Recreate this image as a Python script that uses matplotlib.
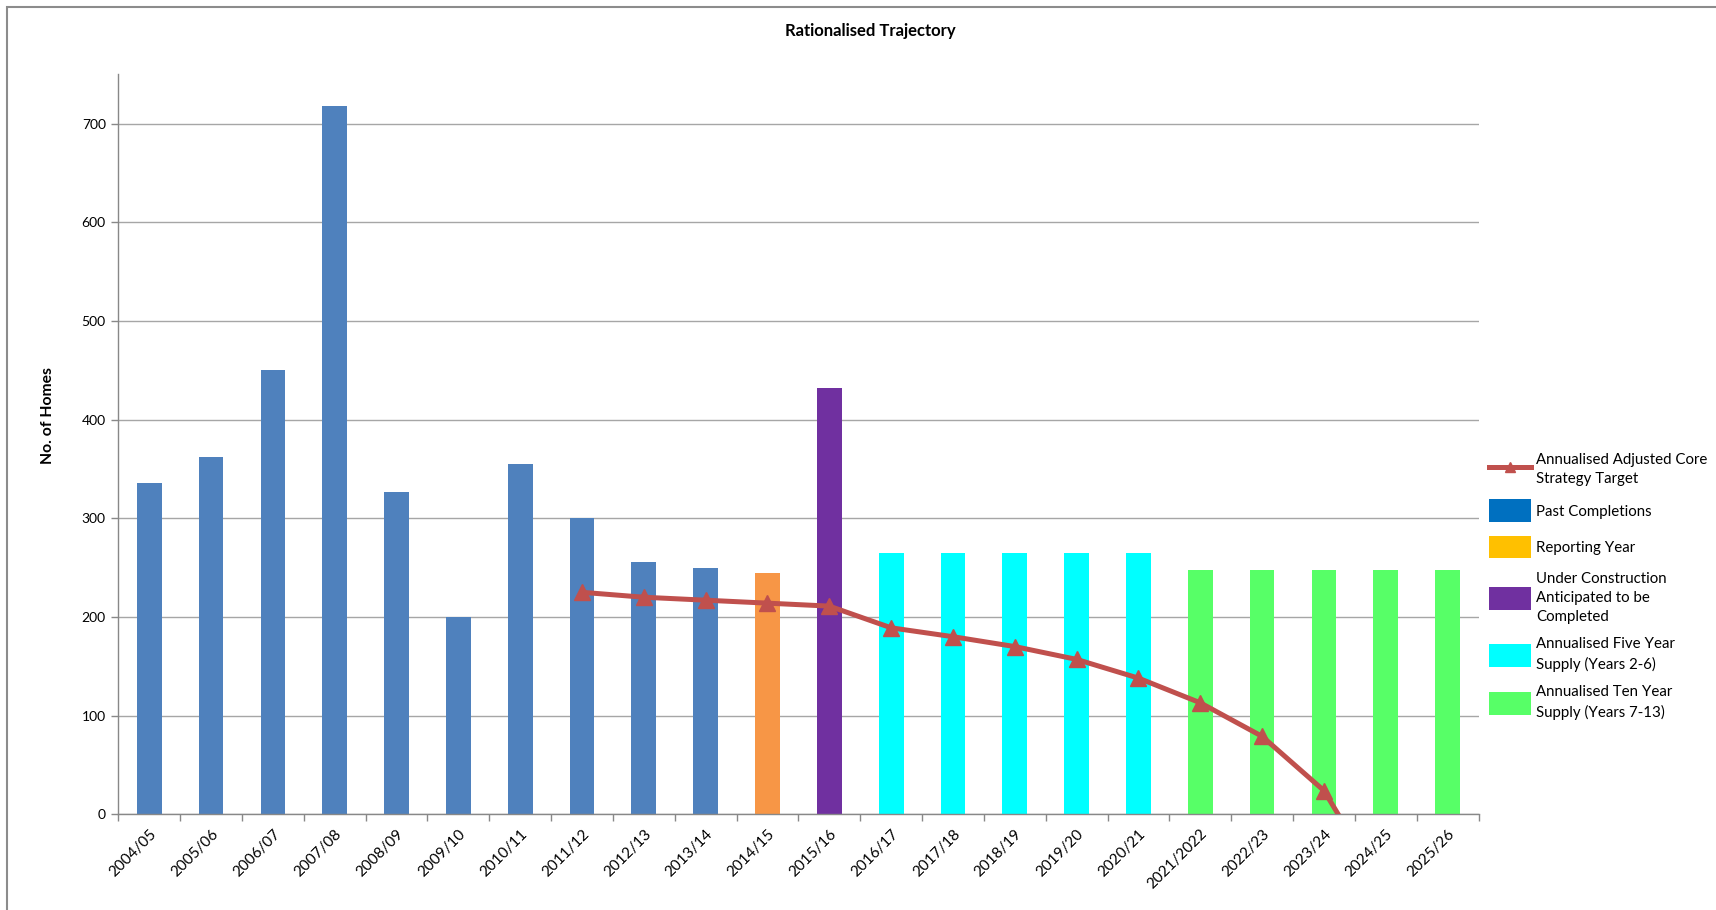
import matplotlib
matplotlib.use("Agg")
import matplotlib.pyplot as plt
from matplotlib.patches import Patch, Rectangle
from matplotlib.lines import Line2D
import numpy as np

plt.rcParams['font.family'] = ['Lato', 'DejaVu Sans']

years = ["2004/05", "2005/06", "2006/07", "2007/08", "2008/09", "2009/10", "2010/11",
         "2011/12", "2012/13", "2013/14", "2014/15", "2015/16", "2016/17", "2017/18",
         "2018/19", "2019/20", "2020/21", "2021/2022", "2022/23", "2023/24", "2024/25", "2025/26"]

past_completions = [336, 362, 450, 718, 327, 200, 355, 300, 256, 250]
reporting_year = [245]
under_construction = [432]
five_year_supply = [265, 265, 265, 265, 265]
ten_year_supply = [248, 248, 248, 248, 248]

# Annualised adjusted core strategy target (from 2011/12 onwards)
target_years = years[7:]
target_values = [225, 220, 217, 214, 211, 189, 180, 170, 157, 138, 113, 79, 24, -80, -190]

series = [
    (past_completions, "#4F81BD"),
    (reporting_year, "#F79646"),
    (under_construction, "#7030A0"),
    (five_year_supply, "#00FFFF"),
    (ten_year_supply, "#57FF67"),
]

W, H = 1716, 910
fig = plt.figure(figsize=(W / 100, H / 100), dpi=100)
ax = fig.add_axes([118.3 / W, 1 - 814.3 / H, (1478.5 - 118.3) / W, (814.3 - 74.3) / H])

x_all = np.arange(len(years))
start = 0
for vals, col in series:
    xs = x_all[start:start + len(vals)]
    ax.bar(xs, vals, width=0.4, color=col, zorder=2)
    start += len(vals)

tx = [years.index(y) for y in target_years]
ax.plot(tx, target_values, color="#C0504D", lw=3.6, marker="^", markersize=11,
        markerfacecolor="#C0504D", markeredgecolor="#C0504D", zorder=3, clip_on=True)

ax.set_xlim(-0.5, len(years) - 0.5)
ax.set_ylim(0, 750)
ax.set_yticks(np.arange(0, 701, 100))
ax.yaxis.grid(True, color="#A6A6A6", lw=1, zorder=0)
ax.set_axisbelow(True)

ax.set_xticks(x_all)
ax.set_xticklabels(years, rotation=45, ha="right", rotation_mode="anchor", fontsize=11,
                   color="#000000")
ax.set_xticks(np.arange(-0.5, len(years), 1), minor=True)
ax.tick_params(axis="x", which="major", length=0, pad=9)
ax.tick_params(axis="x", which="minor", length=5, color="#888888", width=1)
ax.tick_params(axis="y", length=5, color="#888888", width=1, labelsize=10, pad=4)

for s in ("top", "right"):
    ax.spines[s].set_visible(False)
for s in ("left", "bottom"):
    ax.spines[s].set_color("#888888")
    ax.spines[s].set_linewidth(1)

fig.text(870 / W, 1 - 31 / H, "Rationalised Trajectory", ha="center", va="center",
         fontsize=12, fontweight="bold")
fig.text(48 / W, 1 - 416 / H, "No. of Homes", ha="center", va="center", rotation=90,
         fontsize=11.3, fontweight="bold")

handles = [
    Line2D([0], [0], color="#C0504D", lw=3.6, marker="^", markersize=7),
    Patch(facecolor="#0070C0"),
    Patch(facecolor="#FFC000"),
    Patch(facecolor="#7030A0"),
    Patch(facecolor="#00FFFF"),
    Patch(facecolor="#57FF67"),
]
labels = [
    "Annualised Adjusted Core\nStrategy Target",
    "Past Completions",
    "Reporting Year",
    "Under Construction\nAnticipated to be\nCompleted",
    "Annualised Five Year\nSupply (Years 2-6)",
    "Annualised Ten Year\nSupply (Years 7-13)",
]
leg = fig.legend(handles, labels, loc="upper left", bbox_to_anchor=(1489 / W, 1 - 453 / H),
                 frameon=False, fontsize=10.8, borderpad=0, borderaxespad=0,
                 handlelength=2.8, handleheight=1.95, handletextpad=0.35, labelspacing=0.9)
for t in leg.get_texts():
    t.set_linespacing(1.45)

fig.add_artist(Rectangle((7 / W, -0.1), 2, 1 - 7.5 / H + 0.1, transform=fig.transFigure,
                         fill=False, ec="#8C8C8C", lw=1.5))

fig.savefig("out.png", dpi=100, facecolor="white")
